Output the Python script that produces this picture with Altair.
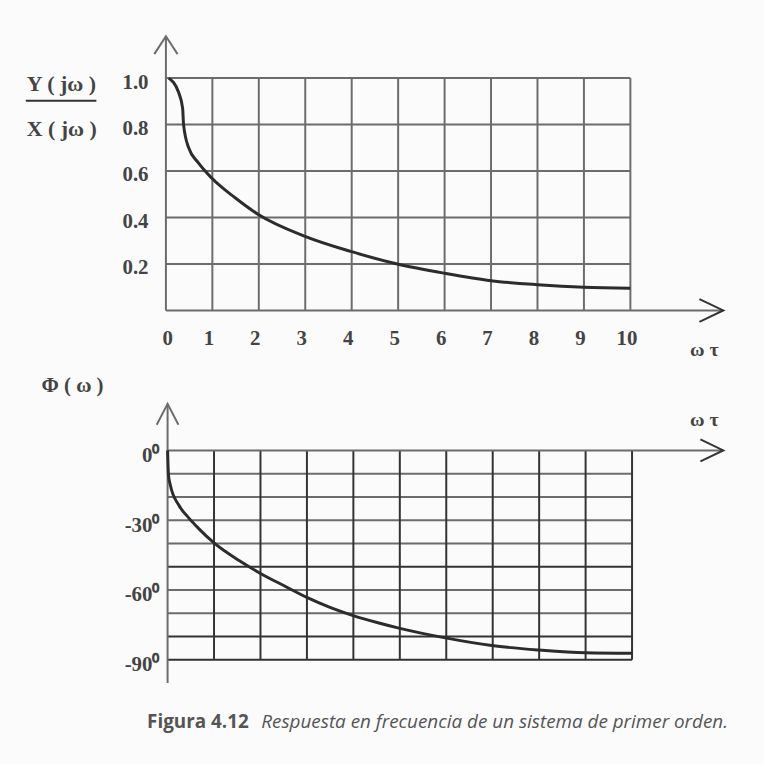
import altair as alt
import pandas as pd

# ---- data ----
wt_mag = [0.06, 0.27, 0.36, 0.38, 0.49, 0.70, 0.985, 1.49, 1.99, 2.98, 3.98, 4.98, 6.0, 7.0, 8.0, 9.0, 10.0]
mag = [1.0, 0.94, 0.87, 0.80, 0.70, 0.635, 0.57, 0.485, 0.413, 0.32, 0.254, 0.20, 0.16, 0.128, 0.111, 0.10, 0.096]

wt_phase = [0.0, 0.02, 0.06, 0.24, 0.45, 0.66, 1.0, 1.59, 2.01, 2.52, 3.01, 3.51, 4.01, 4.51, 4.98, 5.98, 6.98, 7.99, 9.0, 10.0]
phase = [0.0, -10.7, -15.0, -23.5, -28.9, -33.4, -39.8, -48.0, -53.0, -58.3, -63.3, -67.6, -71.1, -74.0, -76.4, -80.6, -83.9, -85.8, -87.0, -87.2]

x_ticks = [0, 1, 2, 3, 4, 5, 6, 7, 8, 9, 10]
mag_ticks = [0.2, 0.4, 0.6, 0.8, 1.0]
phase_ticks = [0, -30, -60, -90]
phase_rows = [-10, -20, -30, -40, -50, -60, -70, -80, -90]
phase_dark_rows = [-50, -80, -90]

TEXT = "#444444"
GRID = "#6c6c6c"
DARK = "#333333"
CURVE = "#2c2c2c"
SERIF = "Liberation Serif"

W = 561
H_TOP = 276
H_BOT = 281

# shared axis definitions (same object in every layer so they merge cleanly)
AX_TX = alt.Axis(values=x_ticks, format="d", domain=False, ticks=False, tickSize=0, grid=False, title=None,
                 labelFont=SERIF, labelFontSize=21, labelFontWeight="bold", labelColor=TEXT,
                 labelPadding=28, labelBaseline="middle", labelOffset=-4)
AX_TY = alt.Axis(values=mag_ticks, format=".1f", domain=False, ticks=False, tickSize=0, grid=False, title=None,
                 labelFont=SERIF, labelFontSize=21, labelFontWeight="bold", labelColor=TEXT,
                 labelPadding=18, labelBaseline="middle", labelOffset=4)
AX_BY = alt.Axis(values=phase_ticks, labelExpr="datum.value + '\u2070'", domain=False, ticks=False, tickSize=0,
                 grid=False, title=None, labelFont=SERIF, labelFontSize=21, labelFontWeight="bold",
                 labelColor=TEXT, labelPadding=7, labelBaseline="middle", labelOffset=5)

# ---- top panel: magnitude ----
xs_t = alt.Scale(domain=[0, 12], nice=False, zero=False)
ys_t = alt.Scale(domain=[0, 1.18], nice=False, zero=False)

mag_df = pd.DataFrame({"wt": wt_mag, "m": mag})
vgrid_t = pd.DataFrame({"x": x_ticks[1:], "y0": 0.0, "y1": max(mag_ticks)})
hgrid_t = pd.DataFrame({"y": mag_ticks, "x0": 0.0, "x1": float(max(x_ticks))})
xaxis_t = pd.DataFrame({"x0": [0.0], "x1": [12.0], "y": [0.0]})
yaxis_t = pd.DataFrame({"x": [0.0], "y0": [0.0], "y1": [1.18]})
one = pd.DataFrame({"a": [0]})


def TX(f):
    return alt.X(f, type="quantitative", scale=xs_t, axis=AX_TX)


def TY(f):
    return alt.Y(f, type="quantitative", scale=ys_t, axis=AX_TY)


curve_t = alt.Chart(mag_df).mark_line(color=CURVE, strokeWidth=3, interpolate="monotone").encode(
    x=TX("wt"), y=TY("m"))
vg_t = alt.Chart(vgrid_t).mark_rule(color=GRID, strokeWidth=2).encode(x=TX("x"), y=TY("y0"), y2="y1:Q")
hg_t = alt.Chart(hgrid_t).mark_rule(color=GRID, strokeWidth=2).encode(y=TY("y"), x=TX("x0"), x2="x1:Q")
xa_t = alt.Chart(xaxis_t).mark_rule(color=GRID, strokeWidth=2).encode(y=TY("y"), x=TX("x0"), x2="x1:Q")
ya_t = alt.Chart(yaxis_t).mark_rule(color=GRID, strokeWidth=2).encode(x=TX("x"), y=TY("y0"), y2="y1:Q")
arrx_t = alt.Chart(xaxis_t).mark_point(shape="M -1 -0.48 L 0 0 L -1 0.48", filled=False, size=2304,
                                      color=DARK, strokeWidth=2, opacity=1).encode(x=TX("x1"), y=TY("y"))
arry_t = alt.Chart(yaxis_t).mark_point(shape="M -0.65 1 L 0 0 L 0.65 1", filled=False, size=1296,
                                      color=GRID, strokeWidth=2, opacity=1).encode(x=TX("x"), y=TY("y1"))

txt_kw = dict(font=SERIF, fontWeight="bold", color=TEXT)
t_num = alt.Chart(one).mark_text(text="Y ( jω )", fontSize=22, align="left", baseline="alphabetic", **txt_kw).encode(
    x=alt.value(-140), y=alt.value(55.5))
t_bar = alt.Chart(one).mark_rule(color=DARK, strokeWidth=2).encode(
    x=alt.value(-141), x2=alt.value(-70), y=alt.value(65))
t_den = alt.Chart(one).mark_text(text="X ( jω )", fontSize=22, align="left", baseline="alphabetic", **txt_kw).encode(
    x=alt.value(-140), y=alt.value(100.7))
t_wt = alt.Chart(one).mark_text(text="ω τ", fontSize=20, align="center", baseline="middle", **txt_kw).encode(
    x=alt.value(542), y=alt.value(316))

top = alt.layer(hg_t, vg_t, xa_t, ya_t, arrx_t, arry_t, curve_t, t_num, t_bar, t_den, t_wt).properties(
    width=W, height=H_TOP)

# ---- bottom panel: phase ----
xs_b = alt.Scale(domain=[-0.036, 11.964], nice=False, zero=False)
ys_b = alt.Scale(domain=[-100, 20], nice=False, zero=False)

ph_df = pd.DataFrame({"wt": wt_phase, "p": phase})
vgrid_b = pd.DataFrame({"x": x_ticks[1:], "y0": float(min(phase_rows)), "y1": 0.0})
hgrid_b = pd.DataFrame({"y": [r for r in phase_rows if r not in phase_dark_rows], "x0": 0.0, "x1": float(max(x_ticks))})
hdark_b = pd.DataFrame({"y": phase_dark_rows, "x0": 0.0, "x1": float(max(x_ticks))})
xaxis_b = pd.DataFrame({"x0": [0.0], "x1": [11.964], "y": [0.0]})
yaxis_b = pd.DataFrame({"x": [0.0], "y0": [-100.0], "y1": [20.0]})


def BX(f):
    return alt.X(f, type="quantitative", scale=xs_b, axis=None)


def BY(f):
    return alt.Y(f, type="quantitative", scale=ys_b, axis=AX_BY)


curve_b = alt.Chart(ph_df).mark_line(color=CURVE, strokeWidth=3, interpolate="monotone").encode(
    x=BX("wt"), y=BY("p"))
vg_b = alt.Chart(vgrid_b).mark_rule(color=DARK, strokeWidth=2).encode(x=BX("x"), y=BY("y0"), y2="y1:Q")
hg_b = alt.Chart(hgrid_b).mark_rule(color=GRID, strokeWidth=2).encode(y=BY("y"), x=BX("x0"), x2="x1:Q")
hd_b = alt.Chart(hdark_b).mark_rule(color=DARK, strokeWidth=2).encode(y=BY("y"), x=BX("x0"), x2="x1:Q")
xa_b = alt.Chart(xaxis_b).mark_rule(color=GRID, strokeWidth=2).encode(y=BY("y"), x=BX("x0"), x2="x1:Q")
ya_b = alt.Chart(yaxis_b).mark_rule(color=GRID, strokeWidth=2).encode(x=BX("x"), y=BY("y0"), y2="y1:Q")
arrx_b = alt.Chart(xaxis_b).mark_point(shape="M -1 -0.48 L 0 0 L -1 0.48", filled=False, size=2116,
                                      color=DARK, strokeWidth=2, opacity=1).encode(x=BX("x1"), y=BY("y"))
arry_b = alt.Chart(yaxis_b).mark_point(shape="M -0.52 1 L 0 0 L 0.52 1", filled=False, size=1764,
                                      color=GRID, strokeWidth=2, opacity=1).encode(x=BX("x"), y=BY("y1"))

b_phi = alt.Chart(one).mark_text(text="Φ ( ω )", fontSize=21, align="center", baseline="middle", **txt_kw).encode(
    x=alt.value(-94), y=alt.value(-18))
b_wt = alt.Chart(one).mark_text(text="ω τ", fontSize=20, align="center", baseline="middle", **txt_kw).encode(
    x=alt.value(542), y=alt.value(16.6))
cap1 = alt.Chart(one).mark_text(text="Figura 4.12", font="Open Sans", fontWeight="bold", fontSize=19, align="left",
                                baseline="middle", color="#555555").encode(x=alt.value(-19), y=alt.value(320))
cap2 = alt.Chart(one).mark_text(text="Respuesta en frecuencia de un sistema de primer orden.", font="Open Sans",
                                fontStyle="italic", fontSize=19, align="left", baseline="middle",
                                color="#555555").encode(x=alt.value(96), y=alt.value(320))

bottom = alt.layer(hg_b, hd_b, vg_b, xa_b, ya_b, arrx_b, arry_b, curve_b, b_phi, b_wt, cap1, cap2).properties(
    width=W, height=H_BOT)

chart = alt.vconcat(top, bottom, spacing=94, bounds="flush").properties(
    padding={"left": 25, "top": 30, "right": 35, "bottom": 30},
    background="#fbfbfb",
).configure_view(stroke=None)

chart.save("out.html", embed_options={"renderer": "svg", "actions": False})
